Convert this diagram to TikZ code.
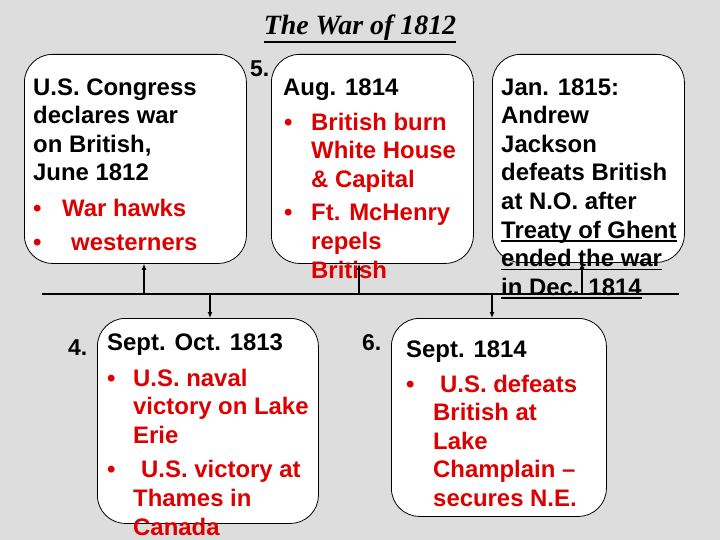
\documentclass[tikz,border=0pt]{standalone}
\usepackage{fontspec}
\usepackage{tikz}
\usetikzlibrary{arrows.meta}
\setmainfont{Liberation Sans}
\newfontfamily\titlefont{Liberation Serif}
\definecolor{pagegray}{RGB}{221,221,221}
\definecolor{warred}{RGB}{221,0,0}
\newcommand{\bulletbox}[1]{\makebox[#1][l]{\textbullet}}
\newcommand{\indentby}[1]{\hspace*{#1}}
\newcommand{\ulinetext}[2][3.7bp]{\setbox0\hbox{#2}\rlap{\rule[-#1]{\wd0}{1.8bp}}\box0}
% fixes the top of a first line 18bp above its baseline
\newcommand{\topstrut}{\rule{0pt}{18bp}}

\begin{document}
\begin{tikzpicture}[x=1bp, y=-1bp,
		box_style/.style={draw=black, line width=0.8bp, fill=white, rounded corners=28bp, inner sep=0, anchor=north west},
		head_style/.style={font=\fontsize{24}{28.7}\selectfont\bfseries, align=left, anchor=north west, inner sep=0},
		list_style/.style={head_style, text=warred},
		num_style/.style={font=\fontsize{23}{26}\selectfont\bfseries, anchor=base west, inner sep=0},
		line_style/.style={draw=black, line width=1.5bp},
		link_style/.style={draw=black, line width=2bp, -{Latex[length=6bp,width=5bp]}}]

		\useasboundingbox[fill=pagegray] (0,0) rectangle (720,540);

		% title
		\node[font=\titlefont\fontsize{28}{32}\selectfont\bfseries\itshape, anchor=base, inner sep=0] (title) at (360,35)
			{\ulinetext[8bp]{The War of 1812}};

		% boxes
		\node[box_style, minimum width=222bp, minimum height=209bp] (box1) at (24,54) {};
		\node[box_style, minimum width=202bp, minimum height=209bp] (box5) at (271,54) {};
		\node[box_style, minimum width=192bp, minimum height=208bp] (box7) at (492,54) {};
		\node[box_style, minimum width=221bp, minimum height=205bp] (box4) at (97,318) {};
		\node[box_style, minimum width=215bp, minimum height=198bp] (box6) at (391,318) {};

		% time line
		\coordinate (tl) at (42,294);
		\coordinate (tr) at (679,294);
		\coordinate (j1) at (144,294);
		\coordinate (j4) at (210,294);
		\coordinate (j5) at (359,294);
		\coordinate (j6) at (492,294);
		\coordinate (j7) at (582,294);
		\draw[line_style] (tl) -- (tr);
		\draw[link_style] (j1) -- (j1 |- box1.south);
		\draw[link_style] (j4) -- (j4 |- box4.north);
		\draw[link_style] (j5) -- (j5 |- box5.south);
		\draw[link_style] (j6) -- (j6 |- box6.north);
		\draw[link_style] (j7) -- (j7 |- box7.south);

		% numbers
		\node[num_style] (num5) at (250,77) {5.};
		\node[num_style] (num4) at (68,355) {4.};
		\node[num_style] (num6) at (362,350) {6.};

		% texts (first baseline 18bp below the point given)
		\node[head_style] (head1) at (33,77) {\topstrut U.S. Congress\\declares war\\on British,\\June 1812};
		\node[list_style] (list1) at (33,198) {\topstrut\bulletbox{29bp}War hawks\\[6bp]\bulletbox{29bp}\indentby{9bp}westerners};

		\node[head_style] (head5) at (283,77) {\topstrut Aug. 1814};
		\node[list_style] (list5) at (284,112) {\topstrut\bulletbox{27bp}British burn\\\indentby{27bp}White House\\\indentby{27bp}\& Capital\\[5bp]%
			\bulletbox{27bp}Ft. McHenry\\\indentby{27bp}repels\\\indentby{27bp}British};

		\node[head_style] (head7) at (501,77) {\topstrut Jan. 1815:\\Andrew\\Jackson\\defeats British\\at N.O. after\\%
			\ulinetext{Treaty of Ghent}\\\ulinetext{ended the war}\\\ulinetext{in Dec. 1814}};

		\node[head_style] (head4) at (107,332) {\topstrut Sept. Oct. 1813};
		\node[list_style] (list4) at (107,368) {\topstrut\bulletbox{26bp}U.S. naval\\\indentby{26bp}victory on Lake\\\indentby{26bp}Erie\\[6bp]%
			\bulletbox{26bp}\indentby{8bp}U.S. victory at\\\indentby{26bp}Thames in\\\indentby{26bp}Canada};

		\node[head_style] (head6) at (406,339) {\topstrut Sept. 1814};
		\node[list_style] (list6) at (406,374) {\topstrut\bulletbox{27bp}\indentby{7bp}U.S. defeats\\\indentby{27bp}British at\\\indentby{27bp}Lake\\%
			\indentby{27bp}Champlain –\\\indentby{27bp}secures N.E.};

\end{tikzpicture}
\end{document}
